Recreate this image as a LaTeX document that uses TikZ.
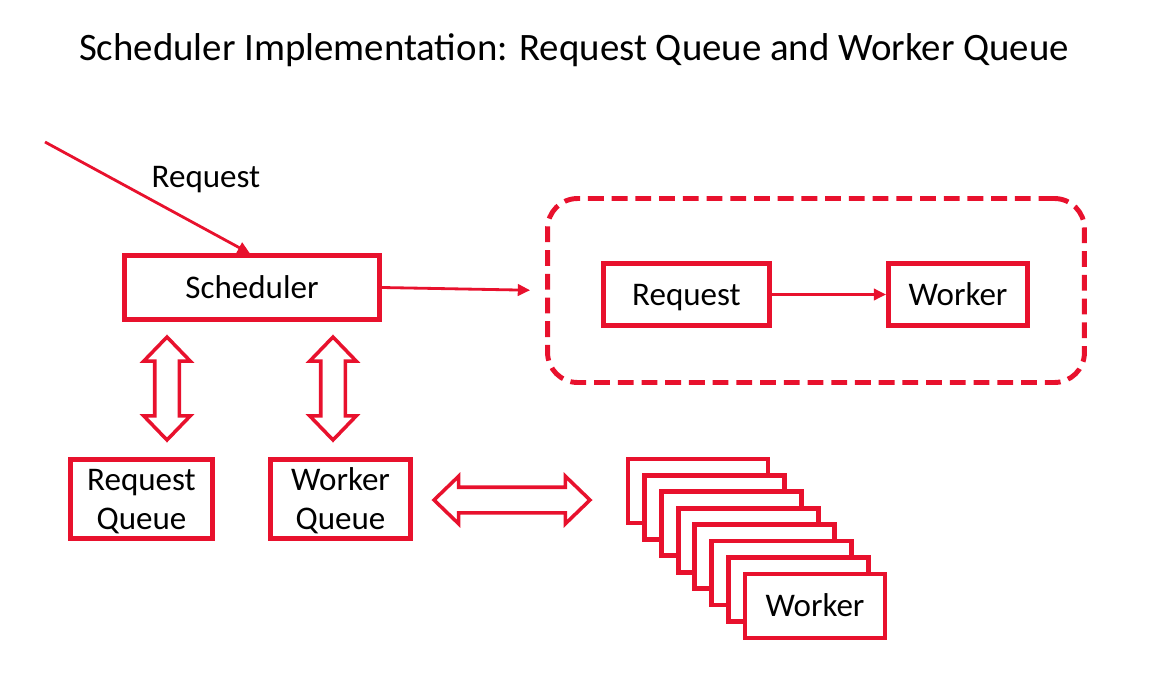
\documentclass[tikz,border=0pt]{standalone}
\usepackage{fontspec}
\setmainfont{Carlito}
\usetikzlibrary{arrows.meta,shapes.arrows,shadows}
\definecolor{schedred}{RGB}{232,17,45}
\begin{document}
\begin{tikzpicture}[
  x=0.02cm, y=-0.02cm,
  box/.style={rectangle, draw=schedred, line width=2.8pt, fill=white, font=\fontsize{18.8}{22.2}\selectfont,
    text height=12pt, text depth=0pt,
    drop shadow={shadow xshift=1.2pt, shadow yshift=-1.2pt, opacity=0.25}},
  group/.style={rectangle, draw=schedred, line width=2.8pt, dash pattern=on 9pt off 4.5pt, rounded corners=0.6cm},
  link/.style={-{Triangle[length=7pt, width=6.5pt]}, line width=1.6pt, schedred},
  swap/.style={double arrow, draw=schedred, line width=2pt, fill=white, inner sep=0pt,
    minimum width=0.86cm, double arrow head extend=0.22cm, double arrow tip angle=88},
]
  \useasboundingbox (0,0) rectangle (1170,690);

  \node[font=\fontsize{22.1}{26}\selectfont] (title) at (574,50) {Scheduler Implementation: Request Queue and Worker Queue};

  % scheduler and the two queues
  \node[box, minimum width=5.1cm, minimum height=1.28cm] (sched) at (252,287.5) {Scheduler};
  \node[box, minimum width=2.84cm, minimum height=1.58cm, align=center, text height=] (reqq) at (141.5,499) {Request\\Queue};
  \node[box, minimum width=2.8cm, minimum height=1.58cm, align=center, text height=] (wrkq) at (340.5,499) {Worker\\Queue};

  \coordinate (src) at (45,142);
  \draw[link] (src) -- (250,253.5) coordinate (hit);
  \node[font=\fontsize{18.8}{22.2}\selectfont] (reqlabel) at (206,180) {Request};

  \node[swap, rotate=90, minimum height=2.06cm, inner ysep=0.21cm] (sw1) at (167,388.5) {};
  \node[swap, rotate=90, minimum height=2.06cm, inner ysep=0.21cm] (sw2) at (333,388.5) {};

  % request handed to a worker
  \node[group, minimum width=10.74cm, minimum height=3.68cm] (grp) at (816,290.5) {};
  \node[box, minimum width=3.32cm, minimum height=1.24cm] (req) at (686.5,294.5) {Request};
  \node[box, minimum width=2.78cm, minimum height=1.24cm] (wrk) at (958,294.5) {Worker};
  \draw[link] (req) -- (wrk);
  \draw[link, shorten >=0.3cm] (sched.east) -- (grp.west);

  % pool of workers
  \foreach \i in {0,...,6}
    \node[box, minimum width=2.8cm, minimum height=1.28cm] (pool\i) at (698+16.7*\i,491+16.4*\i) {};
  \node[box, minimum width=2.8cm, minimum height=1.28cm] (pool7) at (815,606) {Worker};

  \node[swap, minimum height=3.12cm, inner ysep=0.22cm] (sw3) at (512,500) {};
\end{tikzpicture}
\end{document}
